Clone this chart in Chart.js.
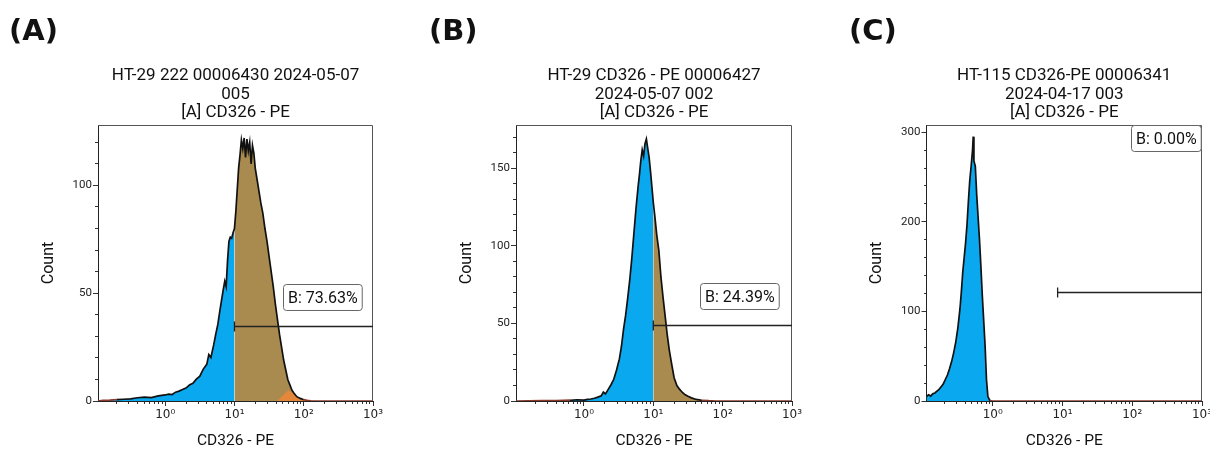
<!DOCTYPE html>
<html>
<head>
<meta charset="utf-8">
<script src="https://cdn.jsdelivr.net/npm/chart.js@4.4.1/dist/chart.umd.min.js"></script>
<style>
  body { margin: 0; background: #fff; }
  #wrap { position: relative; width: 1210px; height: 450px; overflow: hidden; }
  #wrap canvas { position: absolute; top: 0; }
</style>
</head>
<body>
<div id="wrap">
  <canvas id="cA" width="410" height="450" style="left:0"></canvas>
  <canvas id="cB" width="420" height="450" style="left:410px"></canvas>
  <canvas id="cC" width="380" height="450" style="left:830px"></canvas>
</div>
<script>
// --- data (log10 of CD326-PE intensity, event count) ---
const decadeTicks  = [0, 1, 2, 3];
const decadeLabels = ['10⁰', '10¹', '10²', '10³'];

const yTicksA = [0, 50, 100];
const yTicksB = [0, 50, 100, 150];
const yTicksC = [0, 100, 200, 300];

const titleA = ['HT-29 222 00006430 2024-05-07', '005', '[A] CD326 - PE'];
const titleB = ['HT-29 CD326 - PE 00006427', '2024-05-07 002', '[A] CD326 - PE'];
const titleC = ['HT-115 CD326-PE 00006341', '2024-04-17 003', '[A] CD326 - PE'];

const logA = [-0.97,-0.9,-0.8,-0.7,-0.6,-0.5,-0.4,-0.3,-0.2,-0.1,
  0.0,0.05,0.1,0.15,0.2,0.25,0.3,0.35,0.4,0.45,0.5,0.55,0.6,0.63,0.66,
  0.7,0.73,0.76,0.79,0.82,0.84,0.86,0.88,0.9,0.92,0.94,0.96,0.98,1.0,
  1.02,1.04,1.06,1.08,1.1,1.12,1.14,1.16,1.18,1.2,1.22,1.24,1.26,1.28,1.3,1.32,
  1.35,1.38,1.41,1.44,1.47,1.5,1.53,1.56,1.59,1.62,1.65,1.68,1.71,1.74,1.77,1.8,1.83,1.86,
  1.9,1.95,2.0,2.05,2.1,2.2,3.0];
const countA = [0,0.3,0.4,0.6,0.8,1.0,1.5,1.8,1.6,2.4,
  2.8,3.2,3.0,4.1,4.6,5.3,6.0,7.4,8.2,10.1,11.5,14.8,17.0,21.5,20.2,
  26,31,35.5,42,48,52,55.5,53,65,74,76,75.5,78,80,
  88,98,108,114,121,117,122,113,121.5,116,120,110,118.5,115,108,104,
  98,92,87,80,74,67,60,53,45,38,31,25,19,14.5,10,7.5,5,3.6,
  2,1.2,0.6,0.3,0.1,0,0];
const orangeLogA   = [1.62,1.68,1.74,1.78,1.82,1.86,1.92,2.0,2.05];
const orangeCountA = [0,2,4,5,4.2,3,1.5,0.4,0];

const logB = [-0.98,-0.8,-0.6,-0.4,-0.2,-0.1,
  0.0,0.05,0.1,0.15,0.2,0.25,0.28,0.31,0.35,0.39,0.43,0.47,0.51,
  0.54,0.57,0.6,0.63,0.66,0.69,0.72,0.75,0.78,
  0.8,0.82,0.84,0.86,0.88,0.9,0.92,0.94,0.96,0.98,1.0,1.02,
  1.05,1.08,1.11,1.14,1.17,1.2,1.23,1.26,
  1.3,1.34,1.38,1.42,1.46,1.5,1.55,1.62,1.7,1.8,1.9,3.0];
const countB = [0,0.1,0.2,0.3,0.5,0.8,
  0.6,1.0,1.3,1.8,2.5,3.4,5.8,4.6,7.5,10.5,14,20,27,
  35,46,55,66,78,92,108,124,138,
  146,155,162,158,166,169,163,157,148,138,128,120,
  107,97,80,67,55,43,33,25,
  15,10,7.5,5.5,4,3,2,1,0.5,0.2,0,0];

const logC = [-0.95,-0.92,-0.89,-0.86,-0.83,-0.8,-0.77,-0.74,-0.71,-0.68,-0.65,-0.62,-0.59,-0.56,-0.53,-0.5,-0.47,
  -0.45,-0.43,-0.41,-0.39,-0.37,-0.35,-0.33,-0.31,-0.29,-0.28,-0.27,
  -0.25,-0.23,-0.21,-0.19,-0.17,-0.15,-0.13,-0.11,-0.09,-0.07,-0.04,0.0,3.0];
const countC = [5,7,5.5,8,9,11,13,16,19,24,29,36,44,54,66,82,103,
  122,144,160,176,196,222,246,262,280,295,268,
  262,230,205,180,150,118,90,62,24,5,0.5,0,0];

// gate "B" and its label
const gateLabels = ['B: 73.63%', 'B: 24.39%', 'B: 0.00%'];

const minorTicks = [];
for (let n = -1; n < 3; n++) for (let k = 2; k < 10; k++) minorTicks.push(n + Math.log10(k));

const panels = [
  { id: 'cA', letter: '(A)', title: titleA, log: logA, count: countA, extraLog: orangeLogA, extraCount: orangeCountA,
    xMin: -0.97, yMax: 128, yTicks: yTicksA, yMinor: 10, gate: 1.0, gateY: 34.7, label: gateLabels[0], labelAt: [2.27, 48.4],
    padL: 39, padR: 37, letterX: 9 },
  { id: 'cB', letter: '(B)', title: titleB, log: logB, count: countB,
    xMin: -0.98, yMax: 178, yTicks: yTicksB, yMinor: 10, gate: 1.0, gateY: 48.7, label: gateLabels[1], labelAt: [2.245, 67.4],
    padL: 47, padR: 38, letterX: 19 },
  { id: 'cC', letter: '(C)', title: titleC, log: logC, count: countC,
    xMin: -0.95, yMax: 308, yTicks: yTicksC, yMinor: 20, gate: 0.93, gateY: 122, label: gateLabels[2], labelAt: [2.5, 294],
    padL: 37.5, padR: 8, letterX: 19 }
];

const BLUE = '#0aa8ee', TAN = '#a98b50', ORANGE = '#e4873a';

function decor(p) {
  return {
    id: 'decor',
    afterDraw(chart) {
      const { ctx, chartArea: a, scales } = chart;
      ctx.save();
      // frame top / right
      ctx.strokeStyle = '#555'; ctx.lineWidth = 1;
      ctx.beginPath();
      ctx.moveTo(a.left, a.top + 0.5); ctx.lineTo(a.right - 0.5, a.top + 0.5); ctx.lineTo(a.right - 0.5, a.bottom);
      ctx.stroke();
      // title lines
      ctx.fillStyle = '#111'; ctx.font = '17px Roboto';
      ctx.textAlign = 'center'; ctx.textBaseline = 'alphabetic';
      const cx = (a.left + a.right) / 2;
      p.title.forEach((t, i) => ctx.fillText(t, cx, 80 + i * 18.5));
      // panel letter
      ctx.font = 'bold 29px "DejaVu Sans"'; ctx.textAlign = 'left';
      ctx.fillText(p.letter, p.letterX, 40);
      // gate line
      const x0 = scales.x.getPixelForValue(p.gate);
      const gy = Math.round(scales.y.getPixelForValue(p.gateY)) + 0.5;
      ctx.strokeStyle = '#222'; ctx.lineWidth = 1.3;
      ctx.beginPath();
      ctx.moveTo(x0, gy); ctx.lineTo(a.right, gy);
      ctx.moveTo(x0, gy - 5); ctx.lineTo(x0, gy + 5);
      ctx.stroke();
      // label box
      ctx.font = '16px Roboto';
      const w = ctx.measureText(p.label).width + 9, h = 26;
      let bx = scales.x.getPixelForValue(p.labelAt[0]) - w / 2;
      const by = scales.y.getPixelForValue(p.labelAt[1]) - h / 2;
      bx = Math.min(bx, a.right - w - 1);
      ctx.beginPath();
      if (ctx.roundRect) ctx.roundRect(Math.round(bx) + 0.5, Math.round(by) + 0.5, w, h, 3);
      else ctx.rect(Math.round(bx) + 0.5, Math.round(by) + 0.5, w, h);
      ctx.fillStyle = '#fff'; ctx.fill();
      ctx.strokeStyle = '#666'; ctx.lineWidth = 1; ctx.stroke();
      ctx.fillStyle = '#111'; ctx.textAlign = 'center'; ctx.textBaseline = 'middle';
      ctx.fillText(p.label, Math.round(bx) + w / 2 + 0.5, Math.round(by) + h / 2 + 1.5);
      ctx.restore();
    }
  };
}

panels.forEach(p => {
  const pts  = p.log.map((x, i) => ({ x, y: p.count[i] }));
  const blue = pts.filter(d => d.x <= p.gate);
  const tan  = pts.filter(d => d.x >= p.gate);
  const yMinorTicks = [];
  for (let v = 0; v <= p.yMax; v += p.yMinor) yMinorTicks.push(v);

  const datasets = [{
    data: pts, fill: false, borderWidth: 1.7, borderColor: '#111',
    segment: { borderColor: c => (c.p0.parsed.y < 0.7 && c.p1.parsed.y < 0.7) ? '#8c3b2c' : '#111' }
  }];
  if (p.extraLog) {
    datasets.push({
      data: p.extraLog.map((x, i) => ({ x, y: p.extraCount[i] })),
      fill: 'origin', backgroundColor: ORANGE, borderWidth: 0
    });
  }
  datasets.push({ data: tan,  fill: 'origin', backgroundColor: TAN,  borderWidth: 0 });
  datasets.push({ data: blue, fill: 'origin', backgroundColor: BLUE, borderWidth: 0 });

  new Chart(document.getElementById(p.id), {
    type: 'line',
    data: { datasets },
    options: {
      responsive: false,
      animation: false,
      events: [],
      layout: { padding: { left: p.padL, right: p.padR, top: 125, bottom: 0 } },
      elements: { point: { radius: 0 }, line: { tension: 0 } },
      plugins: { legend: { display: false }, tooltip: { enabled: false } },
      scales: {
        x: {
          type: 'linear', min: p.xMin, max: 3,
          afterBuildTicks: s => { s.ticks = decadeTicks.map(v => ({ value: v })); },
          afterFit: s => { s.height = 49; s.paddingLeft = 0; s.paddingRight = 0; },
          ticks: {
            callback: v => decadeLabels[decadeTicks.indexOf(v)] ?? '',
            font: { family: 'DejaVu Sans', size: 12 }, color: '#222', padding: 2, maxRotation: 0, autoSkip: false
          },
          grid: { drawOnChartArea: false, tickLength: 5, color: '#333' },
          border: { color: '#222' },
          title: { display: true, text: 'CD326 - PE', font: { family: 'Roboto', size: 15.5 }, color: '#111', padding: 0 }
        },
        xMinor: {
          type: 'linear', position: { y: 0 }, min: p.xMin, max: 3,
          afterBuildTicks: s => { s.ticks = minorTicks.filter(v => v > p.xMin).map(v => ({ value: v })); },
          ticks: { display: false },
          grid: { drawOnChartArea: false, tickLength: 3, color: '#333' },
          border: { display: false }
        },
        y: {
          min: 0, max: p.yMax,
          afterBuildTicks: s => { s.ticks = p.yTicks.map(v => ({ value: v })); },
          afterFit: s => { s.width = 59; },
          ticks: { font: { family: 'Roboto', size: 11.5 }, color: '#222', padding: 1, autoSkip: false },
          grid: { drawOnChartArea: false, tickLength: 5, color: '#333' },
          border: { color: '#222' },
          title: { display: true, text: 'Count', font: { family: 'Roboto', size: 16 }, color: '#111', padding: 0 }
        },
        yMinor: {
          type: 'linear', position: { x: p.xMin }, min: 0, max: p.yMax,
          afterBuildTicks: s => { s.ticks = yMinorTicks.map(v => ({ value: v })); },
          ticks: { display: false },
          grid: { drawOnChartArea: false, tickLength: 3, color: '#333' },
          border: { display: false }
        }
      }
    },
    plugins: [decor(p)]
  });
});
</script>
</body>
</html>
